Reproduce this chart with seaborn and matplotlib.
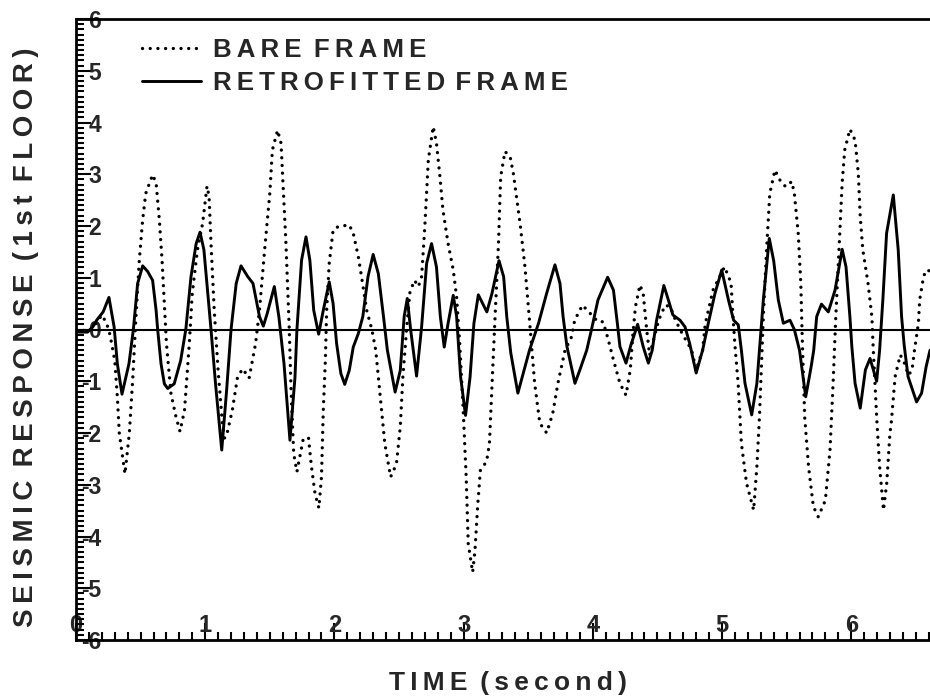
import numpy as np
import pandas as pd
import matplotlib
matplotlib.use("Agg")
import matplotlib.pyplot as plt
from matplotlib.ticker import MultipleLocator, FormatStrFormatter
import seaborn as sns

# ---------------- data ----------------
retro_t = [0.00, 0.02, 0.09, 0.13, 0.16, 0.21, 0.255, 0.295, 0.32, 0.356, 0.41, 0.444,
           0.477, 0.516, 0.555, 0.593, 0.62, 0.632, 0.658, 0.684, 0.71, 0.76, 0.81, 0.85,
           0.89, 0.93, 0.96, 0.99, 1.02, 1.045, 1.08, 1.128, 1.165, 1.20, 1.24, 1.277,
           1.33, 1.37, 1.39, 1.42, 1.45, 1.48, 1.535, 1.57, 1.61, 1.656, 1.695, 1.71,
           1.746, 1.78, 1.81, 1.84, 1.878, 1.914, 1.96, 1.99, 2.017, 2.05, 2.08, 2.115,
           2.146, 2.185, 2.22, 2.26, 2.30, 2.34, 2.38, 2.41, 2.47, 2.51, 2.54, 2.564,
           2.59, 2.636, 2.675, 2.714, 2.752, 2.79, 2.82, 2.85, 2.88, 2.92, 2.946, 2.977,
           3.015, 3.05, 3.08, 3.114, 3.18, 3.22, 3.274, 3.31, 3.334, 3.365, 3.42, 3.475,
           3.51, 3.58, 3.643, 3.707, 3.746, 3.77, 3.80, 3.862, 3.90, 3.953, 3.99, 4.04,
           4.115, 4.16, 4.19, 4.21, 4.257, 4.295, 4.347, 4.39, 4.43, 4.46, 4.494, 4.55,
           4.585, 4.62, 4.675, 4.714, 4.75, 4.80, 4.85, 4.894, 4.946, 4.998, 5.05, 5.09,
           5.126, 5.15, 5.178, 5.23, 5.27, 5.29, 5.32, 5.366, 5.40, 5.436, 5.475, 5.526,
           5.56, 5.60, 5.648, 5.69, 5.71, 5.733, 5.77, 5.823, 5.875, 5.93, 5.96, 5.99,
           6.005, 6.03, 6.07, 6.11, 6.146, 6.197, 6.22, 6.245, 6.274, 6.326, 6.364, 6.39,
           6.41, 6.44, 6.506, 6.545, 6.58, 6.61]
retro_v = [0.00, -0.05, -0.05, 0.05, 0.18, 0.34, 0.62, 0.05, -0.66, -1.25, -0.66, 0.00,
           0.89, 1.23, 1.12, 0.95, 0.37, 0.00, -0.66, -1.05, -1.14, -1.05, -0.60, 0.00,
           1.02, 1.66, 1.88, 1.54, 0.70, 0.00, -1.05, -2.33, -1.20, 0.00, 0.89, 1.23,
           1.02, 0.89, 0.63, 0.25, 0.065, 0.31, 0.83, 0.25, -0.66, -2.14, -0.92, 0.00,
           1.34, 1.79, 1.34, 0.37, -0.09, 0.37, 0.92, 0.50, -0.27, -0.85, -1.06, -0.79,
           -0.34, -0.08, 0.25, 1.02, 1.45, 1.08, 0.25, -0.40, -1.21, -0.79, 0.25, 0.60,
           0.00, -0.90, 0.05, 1.28, 1.66, 1.21, 0.25, -0.34, 0.12, 0.66, 0.25, -0.92,
           -1.66, -0.92, 0.12, 0.67, 0.34, 0.70, 1.33, 1.02, 0.25, -0.45, -1.23, -0.72,
           -0.40, 0.12, 0.70, 1.25, 0.89, 0.25, -0.33, -1.04, -0.78, -0.40, 0.00, 0.57,
           1.01, 0.76, 0.12, -0.33, -0.65, -0.30, 0.10, -0.33, -0.65, -0.40, 0.18, 0.85,
           0.57, 0.28, 0.18, 0.05, -0.27, -0.84, -0.40, 0.12, 0.70, 1.15, 0.57, 0.18,
           0.09, -0.40, -1.04, -1.65, -1.04, -0.40, 0.57, 1.76, 1.33, 0.57, 0.12, 0.18,
           0.00, -0.40, -1.30, -0.72, -0.40, 0.25, 0.49, 0.34, 0.76, 1.55, 1.21, 0.25,
           -0.33, -1.04, -1.52, -0.78, -0.56, -1.00, -0.40, 0.57, 1.86, 2.60, 1.54, 0.25,
           -0.30, -0.91, -1.40, -1.23, -0.72, -0.40]

bare_t = [0.00, 0.10, 0.155, 0.20, 0.237, 0.263, 0.28, 0.30, 0.32, 0.335, 0.379, 0.413,
          0.44, 0.464, 0.49, 0.516, 0.54, 0.593, 0.62, 0.645, 0.666, 0.684, 0.70, 0.735,
          0.774, 0.805, 0.84, 0.877, 0.90, 0.94, 0.98, 1.014, 1.03, 1.045, 1.07, 1.10,
          1.135, 1.15, 1.17, 1.21, 1.25, 1.29, 1.34, 1.39, 1.42, 1.46, 1.50, 1.52,
          1.56, 1.587, 1.61, 1.625, 1.65, 1.665, 1.685, 1.71, 1.76, 1.80, 1.82, 1.85,
          1.88, 1.90, 1.914, 1.93, 1.94, 1.96, 1.99, 2.03, 2.115, 2.146, 2.185, 2.21,
          2.25, 2.29, 2.32, 2.34, 2.365, 2.39, 2.435, 2.48, 2.51, 2.53, 2.56, 2.585,
          2.62, 2.65, 2.675, 2.70, 2.727, 2.765, 2.79, 2.817, 2.84, 2.88, 2.92, 2.946,
          2.97, 2.997, 3.02, 3.036, 3.07, 3.088, 3.11, 3.13, 3.178, 3.20, 3.217, 3.24,
          3.27, 3.287, 3.32, 3.36, 3.385, 3.44, 3.475, 3.51, 3.55, 3.59, 3.643, 3.69,
          3.73, 3.785, 3.836, 3.86, 3.92, 3.98, 4.04, 4.08, 4.12, 4.16, 4.21, 4.257,
          4.29, 4.31, 4.33, 4.365, 4.39, 4.417, 4.44, 4.47, 4.51, 4.56, 4.60, 4.64,
          4.69, 4.765, 4.80, 4.85, 4.87, 4.93, 5.02, 5.07, 5.085, 5.10, 5.125, 5.15,
          5.19, 5.245, 5.27, 5.29, 5.31, 5.32, 5.345, 5.37, 5.41, 5.46, 5.495, 5.54,
          5.56, 5.59, 5.61, 5.62, 5.64, 5.67, 5.707, 5.745, 5.80, 5.836, 5.86, 5.87,
          5.88, 5.905, 5.93, 5.95, 5.99, 6.03, 6.055, 6.07, 6.09, 6.13, 6.16, 6.17,
          6.197, 6.22, 6.25, 6.275, 6.30, 6.31, 6.34, 6.38, 6.42, 6.44, 6.47, 6.49,
          6.52, 6.53, 6.56, 6.58, 6.61]
bare_v = [0.00, -0.03, 0.12, 0.28, 0.12, -0.10, -0.33, -0.60, -1.30, -2.00, -2.79, -2.00,
          -0.92, 0.25, 1.34, 2.12, 2.63, 2.99, 2.83, 2.12, 1.34, 0.50, -0.27, -1.24,
          -1.69, -1.97, -1.56, -0.27, 0.70, 1.54, 2.05, 2.77, 2.57, 1.66, 0.37, -0.79,
          -1.88, -2.10, -2.00, -1.56, -0.92, -0.76, -0.94, -0.27, 0.37, 1.54, 2.63, 3.47,
          3.85, 3.60, 2.44, 1.66, 0.05, -1.20, -2.40, -2.75, -2.10, -2.10, -2.60, -3.17,
          -3.45, -2.85, -1.56, -0.60, 0.37, 1.28, 1.92, 1.99, 2.02, 1.86, 1.41, 1.02,
          0.37, 0.00, -0.40, -0.92, -1.56, -2.20, -2.85, -2.60, -1.88, -0.92, 0.05, 0.73,
          0.95, 0.83, 1.02, 1.99, 3.28, 3.92, 3.60, 2.95, 2.31, 1.66, 1.15, 0.63,
          -0.27, -1.56, -2.85, -4.14, -4.69, -4.27, -3.37, -2.72, -2.55, -2.20, -1.24, 0.05,
          1.66, 2.95, 3.44, 3.34, 3.02, 1.99, 1.21, 0.18, -1.04, -1.81, -2.00, -1.62,
          -1.04, -0.40, -0.14, 0.18, 0.47, 0.31, 0.15, 0.15, -0.20, -0.59, -1.04, -1.27,
          -0.78, -0.10, 0.44, 0.86, 0.70, 0.00, -0.50, -0.20, 0.18, 0.47, 0.44, 0.18,
          -0.07, -0.40, -0.78, -0.40, 0.10, 0.76, 1.21, 0.90, 0.25, -0.30, -1.04, -2.20,
          -2.97, -3.49, -2.65, -1.69, -0.40, 0.25, 1.54, 2.63, 3.08, 2.83, 2.76, 2.86,
          2.63, 1.86, 0.90, -0.07, -1.69, -2.65, -3.42, -3.62, -3.30, -2.33, -1.04, -0.40,
          0.20, 1.50, 2.83, 3.47, 3.87, 3.66, 3.02, 2.18, 1.54, 0.90, 0.25, -0.33,
          -1.69, -2.65, -3.49, -2.97, -2.00, -1.81, -0.91, -0.49, -0.69, -0.88, -0.80, -0.40,
          0.12, 0.57, 1.02, 1.15, 1.13]

x_major_ticks = [0, 1, 2, 3, 4, 5, 6]
y_major_ticks = [-6, -5, -4, -3, -2, -1, 0, 1, 2, 3, 4, 5, 6]


def spaced(text, word_gap=" \u2009"):
    """Letter-spaced text: thin spaces between letters, wider gap between words."""
    words = text.split(" ")
    return word_gap.join("\u2009".join(w) for w in words)


bare_label = spaced("BARE FRAME")
retro_label = spaced("RETROFITTED FRAME", word_gap="\u2009\u2009")
x_label = spaced("TIME (second)")
y_label = spaced("SEISMIC RESPONSE (1st FLOOR)")

# ---------------- style ----------------
sns.set_style("ticks")
plt.rcParams["font.family"] = ["Liberation Sans", "DejaVu Sans"]
plt.rcParams["font.weight"] = "bold"
plt.rcParams["axes.unicode_minus"] = False

fig = plt.figure(figsize=(9.3, 6.99), dpi=100)
ax = fig.add_axes([76 / 930, 59 / 699, 854 / 930, 621 / 699])

df_bare = pd.DataFrame({"t": bare_t, "v": bare_v})
df_retro = pd.DataFrame({"t": retro_t, "v": retro_v})

sns.lineplot(data=df_bare, x="t", y="v", ax=ax, color="black", lw=2.4,
             linestyle=(0, (0.01, 2.3)), dash_capstyle="round",
             estimator=None, sort=False, label=bare_label)
sns.lineplot(data=df_retro, x="t", y="v", ax=ax, color="black", lw=2.1,
             estimator=None, sort=False, label=retro_label)

ax.axhline(0, color="black", lw=1.5, zorder=1)

ax.set_xlim(0, 6.61)
ax.set_ylim(-6, 6)
ax.set_xticks(x_major_ticks)
ax.set_yticks(y_major_ticks)
ax.xaxis.set_minor_locator(MultipleLocator(0.1))
ax.yaxis.set_minor_locator(MultipleLocator(0.1))
ax.xaxis.set_major_formatter(FormatStrFormatter("%d"))
ax.yaxis.set_major_formatter(FormatStrFormatter("%d"))

for s in ["left", "bottom", "top"]:
    ax.spines[s].set_linewidth(2)
    ax.spines[s].set_color("black")
ax.spines["right"].set_visible(False)

ax.tick_params(axis="both", which="both", direction="in", width=1.5, color="black",
               top=False, right=False)
ax.tick_params(axis="y", which="major", length=11, pad=-18, labelsize=16.5)
ax.tick_params(axis="y", which="minor", length=6)
ax.tick_params(axis="x", which="major", length=12, pad=-19, labelsize=17)
ax.tick_params(axis="x", which="minor", length=6)
for lab in ax.get_xticklabels() + ax.get_yticklabels():
    lab.set_fontweight("bold")

ax.set_xlabel(x_label, fontsize=19, fontweight="bold")
ax.set_ylabel(y_label, fontsize=20, fontweight="bold")
ax.xaxis.set_label_coords(0.506, -0.05)
ax.yaxis.set_label_coords(-0.043, 0.487)

leg = ax.legend(loc="upper left", bbox_to_anchor=(0.077, 0.970), frameon=False,
                borderpad=0, borderaxespad=0, handlelength=2.3, handletextpad=0.45,
                labelspacing=0.38, prop={"size": 18.6, "weight": "bold"})

fig.savefig("out.png", dpi=100)
